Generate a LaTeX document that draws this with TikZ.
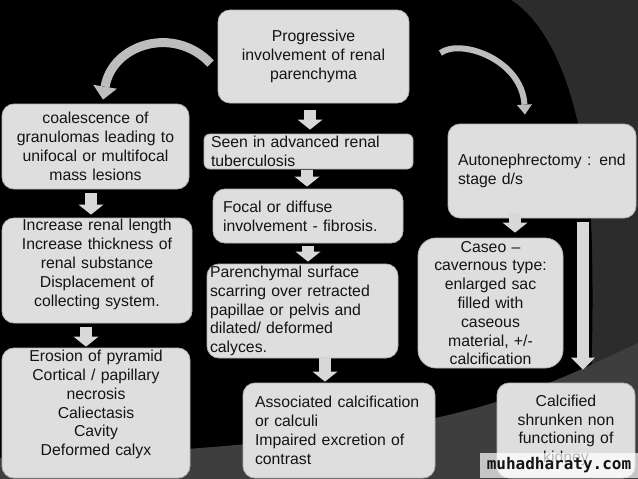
\documentclass[tikz,border=0pt]{standalone}
\usepackage{fontspec}
\setmainfont{Liberation Sans}
\newfontfamily\wmfont{DejaVu Sans Mono}
\usetikzlibrary{
  arrows.meta,
  calc
}
\definecolor{tbInk}{HTML}{141414}
\definecolor{tbBox}{HTML}{DEDEDE}
\definecolor{tbEdge}{HTML}{B4B4B4}
\definecolor{tbArrow}{HTML}{D8D8D8}
\definecolor{tbCurve}{HTML}{BDBDBD}
\definecolor{tbShade}{HTML}{2C2C2C}
\definecolor{tbBand}{HTML}{3E3E3E}
\tikzset{
  every node/.style={font=\fontsize{15.8}{18.8}\selectfont, text=tbInk},
  panel/.style={
    rounded corners=12pt,
    draw=tbEdge,
    line width=0.8pt,
    fill=tbBox,
    inner ysep=0pt
  },
  stage/.style 2 args={
    panel,
    text width=#1pt,
    minimum height=#2pt,
    inner xsep=8pt,
    align=center
  },
  remark/.style n args={3}{
    panel,
    text width=#1pt,
    minimum height=#2pt,
    inner xsep=#3pt,
    align=left
  },
  downlink/.style={
    draw=tbArrow,
    line width=12pt,
    -{Triangle[length=10pt,width=25pt,line width=0pt]}
  },
  longlink/.style={
    draw=tbArrow,
    line width=12pt,
    -{Triangle[length=12pt,width=24pt,line width=0pt]}
  },
  sweeplink/.style={
    draw=tbCurve,
    line width=9pt,
    -{Triangle[length=13pt,width=24pt,line width=0pt]}
  },
  stamp/.style={
    fill=white,
    fill opacity=0.7,
    text opacity=1,
    minimum width=158pt,
    minimum height=25pt,
    inner sep=0pt,
    font=\wmfont\bfseries\fontsize{16}{16}\selectfont,
    text=tbInk
  }
}

\begin{document}
\begin{tikzpicture}[x=1pt,y=-1pt]
  \useasboundingbox (0,0) rectangle (638,479);

  % slide background
  \fill[tbShade] (0,0) rectangle (638,479);
  \fill[black] (0,0) -- (511,0) .. controls (565,35) and (590,140) .. (592,250)
    .. controls (594,340) and (590,420) .. (585,479) -- (0,479) -- cycle;
  \fill[tbBand] (0,458) .. controls (150,455) and (330,440) .. (435,418)
    .. controls (520,400) and (580,370) .. (638,343) -- (638,479) -- (0,479) -- cycle;

  \node[stage={175}{93}] (prog) at (313.5,56.5)
    {Progressive\\ involvement of renal\\ parenchyma};
  \node[stage={171}{85}] (coal) at (95.5,146.5)
    {coalescence of\\ granulomas leading to\\ unifocal or multifocal\\ mass lesions};
  \node[remark={195}{35}{7}, rounded corners=6pt] (seen) at (308.5,151.5)
    {Seen in advanced renal\\ tuberculosis};
  \node[remark={168}{94}{10}] (autone) at (542,171)
    {Autonephrectomy : end\\ stage d/s};
  \node[remark={170}{54}{10}] (focal) at (308,216)
    {Focal or diffuse\\ involvement - fibrosis.};
  \node[stage={174}{105}] (incr) at (97,270.5)
    {Increase renal length\\ Increase thickness of\\ renal substance\\ Displacement of\\
     collecting system.\rule[-15.5pt]{0pt}{0pt}};
  \node[remark={185}{94}{3}] (scar) at (302.5,311)
    {Parenchymal surface\\ scarring over retracted\\ papillae or pelvis and\\ dilated/ deformed\\ calyces.};
  \node[stage={129}{130}, rounded corners=18pt] (caseo) at (490.5,303)
    {Caseo –\\ cavernous type:\\ enlarged sac\\ filled with\\ caseous\\ material, +/-\\ calcification};
  \node[stage={172}{130}] (eros) at (96,413)
    {Erosion of pyramid\\ Cortical / papillary\\ necrosis\\ Caliectasis\\ Cavity\\
     Deformed calyx\rule[-20pt]{0pt}{0pt}};
  \node[remark={168}{95}{12}] (assoc) at (339,430.5)
    {Associated calcification\\ or calculi\\ Impaired excretion of\\ contrast};
  \node[stage={122}{95}] (shrunk) at (566,430.5)
    {Calcified\\ shrunken non\\ functioning of\\ kidney};

  \foreach \a/\b/\dx/\s/\e in {
    prog/seen/-3.5/7/4,
    seen/focal/-1.5/1/2,
    focal/scar/0/3/2,
    scar/assoc/22.5/0/1,
    coal/incr/-4.5/4/3,
    incr/eros/-11/4/1,
    autone/caseo/-27/-5/5
  }{
    \draw[downlink, shorten <=\s pt, shorten >=\e pt]
      ($(\a.south)+(\dx,0)$) -- ($(\a.south |- \b.north)+(\dx,0)$);
  }
  \draw[longlink, shorten <=4pt, shorten >=13pt]
    ($(autone.south)+(41,0)$) -- ($(autone.south |- shrunk.north)+(41,0)$);

  \draw[sweeplink] ([shift={(-7,7)}]prog.west) .. controls +(-37,-39) and +(9,-55)
    .. ([shift={(7.5,-4)}]coal.north);
  \draw[sweeplink, line width=6pt, -{Triangle[length=10pt,width=15pt,line width=0pt]}]
    ([shift={(31,-3.5)}]prog.east) .. controls +(20,-15) and +(-3,-55)
    .. ([shift={(-17,-9)}]autone.north);

  \node[stamp] (wm) at (559,465) {muhadharaty.com};
\end{tikzpicture}
\end{document}
